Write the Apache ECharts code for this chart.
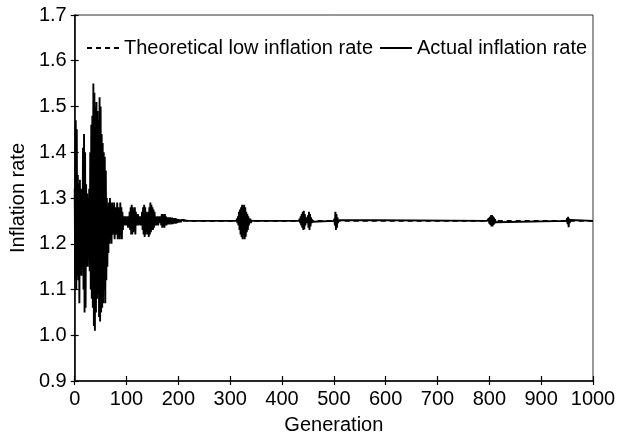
<!DOCTYPE html>
<html>
<head>
<meta charset="utf-8">
<script src="https://cdn.jsdelivr.net/npm/echarts@6/dist/echarts.min.js"></script>
<style>html,body{margin:0;padding:0;background:#fff}#c{width:620px;height:440px}</style>
</head>
<body>
<div id="c"></div>
<script>
// ---- data ----
const seriesNames = ['Theoretical low inflation rate', 'Actual inflation rate'];
const theoreticalRate = 1.25;
const firstGeneration = 0;
const lastGeneration = 1000;
const yTicks = [0.9, 1.0, 1.1, 1.2, 1.3, 1.4, 1.5, 1.6, 1.7];
const xTicks = [0, 100, 200, 300, 400, 500, 600, 700, 800, 900, 1000];

// actual inflation rate, one value per generation, in bursts starting at the given generation
const burstStarts = [0, 312, 433, 500, 796, 949];
const burstEarly = [
  1.32, 1.12, 1.47, 1.10, 1.45, 1.13, 1.35, 1.12, 1.33, 1.07,
  1.34, 1.14, 1.32, 1.13, 1.30, 1.15, 1.41, 1.10, 1.44, 1.05,
  1.40, 1.06, 1.33, 1.16, 1.31, 1.15, 1.30, 1.17, 1.32, 1.14,
  1.40, 1.10, 1.46, 1.08, 1.48, 1.06, 1.55, 1.02, 1.53, 1.01,
  1.50, 1.05, 1.51, 1.08, 1.49, 1.09, 1.47, 1.04, 1.52, 1.03,
  1.50, 1.05, 1.44, 1.06, 1.42, 1.07, 1.40, 1.10, 1.39, 1.07,
  1.36, 1.12, 1.30, 1.15, 1.28, 1.18, 1.29, 1.20, 1.30, 1.21,
  1.27, 1.20, 1.29, 1.22, 1.26, 1.23, 1.29, 1.21, 1.28, 1.22,
  1.26, 1.24, 1.29, 1.21, 1.28, 1.23, 1.27, 1.21, 1.29, 1.22,
  1.28, 1.21, 1.27, 1.23, 1.26, 1.24, 1.26, 1.24, 1.26, 1.24,
  1.255, 1.24, 1.26, 1.235, 1.26, 1.24, 1.27, 1.23, 1.28, 1.22,
  1.285, 1.22, 1.28, 1.225, 1.27, 1.23, 1.28, 1.22, 1.27, 1.24,
  1.26, 1.24, 1.265, 1.24, 1.26, 1.245, 1.26, 1.24, 1.255, 1.245,
  1.27, 1.23, 1.28, 1.22, 1.285, 1.215, 1.28, 1.22, 1.27, 1.23,
  1.265, 1.22, 1.27, 1.215, 1.28, 1.22, 1.29, 1.225, 1.285, 1.23,
  1.28, 1.23, 1.275, 1.235, 1.27, 1.24, 1.26, 1.24, 1.255, 1.245,
  1.26, 1.24, 1.255, 1.245, 1.26, 1.245, 1.255, 1.24, 1.265, 1.235,
  1.265, 1.24, 1.26, 1.235, 1.265, 1.24, 1.26, 1.24, 1.255, 1.245,
  1.258, 1.242, 1.257, 1.243, 1.258, 1.242, 1.256, 1.244, 1.257, 1.243,
  1.256, 1.244, 1.255, 1.245, 1.256, 1.244, 1.255, 1.245, 1.254, 1.246,
  1.254, 1.246, 1.253, 1.247, 1.253, 1.247, 1.252, 1.248, 1.252, 1.248,
  1.252, 1.248, 1.251, 1.249, 1.251, 1.249, 1.25, 1.25, 1.25, 1.25
];
const burst330 = [
  1.25, 1.255, 1.245, 1.26, 1.24, 1.27, 1.23, 1.275, 1.22, 1.28,
  1.215, 1.285, 1.21, 1.28, 1.22, 1.285, 1.21, 1.28, 1.215, 1.27,
  1.225, 1.265, 1.23, 1.26, 1.24, 1.255, 1.245, 1.255, 1.245, 1.25
];
const burst445 = [
  1.25, 1.255, 1.245, 1.26, 1.24, 1.265, 1.235, 1.27, 1.23, 1.272,
  1.232, 1.265, 1.24, 1.258, 1.245, 1.255, 1.245, 1.262, 1.235, 1.27,
  1.23, 1.265, 1.238, 1.258, 1.245, 1.253, 1.248, 1.25
];
const burst505 = [1.25, 1.255, 1.24, 1.27, 1.23, 1.265, 1.235, 1.258, 1.245, 1.252, 1.25];
const burst805 = [
  1.25, 1.253, 1.247, 1.256, 1.244, 1.259, 1.241, 1.262, 1.238, 1.263,
  1.238, 1.26, 1.241, 1.257, 1.244, 1.254, 1.247, 1.25
];
const burst952 = [1.25, 1.256, 1.243, 1.259, 1.236, 1.255, 1.245, 1.252, 1.25];

// ---- build series data ----
const bursts = [burstEarly, burst330, burst445, burst505, burst805, burst952];
const actualData = [];
bursts.forEach((b, i) => b.forEach((v, k) => actualData.push([burstStarts[i] + k, v])));
actualData.push([lastGeneration, theoreticalRate]);
const theoreticalData = [[firstGeneration, theoreticalRate], [lastGeneration, theoreticalRate]];

const FONT = 'Liberation Sans';
const chart = echarts.init(document.getElementById('c'), null, {renderer: 'canvas'});
chart.setOption({
  animation: false,
  backgroundColor: '#fff',
  textStyle: {fontFamily: FONT, color: '#000'},
  grid: {left: 71, right: 27, top: 15, bottom: 55, show: true, borderColor: '#333', borderWidth: 1},
  legend: {
    left: 81, top: 33, itemGap: 6, itemWidth: 32, itemHeight: 10,
    itemStyle: {opacity: 0},
    textStyle: {fontFamily: FONT, fontSize: 20, color: '#000'},
    data: seriesNames
  },
  xAxis: [{
    type: 'value', min: xTicks[0], max: xTicks[xTicks.length - 1], interval: 100,
    name: 'Generation', nameLocation: 'middle', nameGap: 34,
    nameTextStyle: {fontFamily: FONT, fontSize: 20, color: '#000'},
    axisLine: {lineStyle: {color: '#000', width: 1.5}},
    axisTick: {inside: false, length: 4, lineStyle: {color: '#000', width: 1.2}},
    axisLabel: {fontFamily: FONT, fontSize: 20, color: '#000', margin: 8, formatter: v => String(v)},
    splitLine: {show: false}
  }, {
    type: 'value', position: 'bottom', min: xTicks[0], max: xTicks[xTicks.length - 1], interval: 100,
    axisLine: {show: false},
    axisTick: {inside: true, length: 5, lineStyle: {color: '#000', width: 1.2}},
    axisLabel: {show: false}, splitLine: {show: false}
  }],
  yAxis: [{
    type: 'value', min: yTicks[0], max: yTicks[yTicks.length - 1], interval: 0.1,
    name: 'Inflation rate', nameLocation: 'middle', nameGap: 42,
    nameTextStyle: {fontFamily: FONT, fontSize: 20, color: '#000'},
    axisLine: {lineStyle: {color: '#000', width: 1.5}},
    axisTick: {inside: false, length: 4, lineStyle: {color: '#000', width: 1.2}},
    axisLabel: {fontFamily: FONT, fontSize: 20, color: '#000', margin: 8, formatter: v => v.toFixed(1)},
    splitLine: {show: false}
  }, {
    type: 'value', position: 'left', min: yTicks[0], max: yTicks[yTicks.length - 1], interval: 0.1,
    axisLine: {show: false},
    axisTick: {inside: true, length: 4, lineStyle: {color: '#000', width: 1.2}},
    axisLabel: {show: false}, splitLine: {show: false}
  }],
  series: [{
    name: seriesNames[0], type: 'line', data: theoreticalData, symbol: 'none',
    lineStyle: {color: '#000', width: 1.8, type: [5, 4]}, itemStyle: {color: '#000'}
  }, {
    name: seriesNames[1], type: 'line', data: actualData, symbol: 'none',
    lineStyle: {color: '#000', width: 1.9}, itemStyle: {color: '#000'}
  }]
});
</script>
</body>
</html>
